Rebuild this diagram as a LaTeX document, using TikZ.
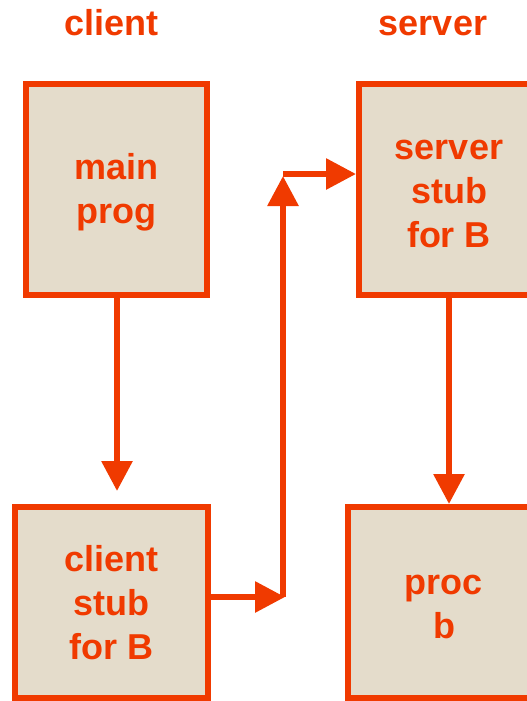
\documentclass[tikz,border=0pt]{standalone}
\usepackage{fontspec}
\setmainfont{Liberation Sans}
\usetikzlibrary{arrows.meta}
\definecolor{rpcred}{RGB}{240,58,0}
\definecolor{rpcfill}{RGB}{228,220,203}
\tikzset{
  boxtext/.style={align=center, text=rpcred, inner sep=0pt,
    font=\fontsize{36}{44}\selectfont\bfseries},
  box/.style={draw=rpcred, fill=rpcfill, line width=6pt, rectangle, inner sep=0pt},
  title/.style={text=rpcred, anchor=base, inner sep=0pt,
    font=\fontsize{36}{44}\selectfont\bfseries},
  arr/.style={draw=rpcred, line width=6pt,
    -{Triangle[length=30pt,width=30pt]}},
}
\begin{document}
\begin{tikzpicture}[x=1pt,y=-1pt]
  \clip (0,0) rectangle (527,701);
  \fill[white] (0,0) rectangle (527,701);

  % column headings
  \node[title] (hclient) at (111.5,36) {client};
  \node[title] (hserver) at (433,36) {server};

  % client side
  \node[box, minimum width=181pt, minimum height=211pt,
    label={[boxtext,yshift=-3pt]center:main\\prog}] (main) at (116.5,189.5) {};
  \node[box, minimum width=193pt, minimum height=191pt,
    label={[boxtext]center:client\\stub\\for B}] (cstub) at (111.5,602.5) {};

  % server side
  \node[box, minimum width=180pt, minimum height=211pt,
    label={[boxtext,yshift=-4pt]center:server\\stub\\for B}] (sstub) at (449,189.5) {};
  \node[box, minimum width=192pt, minimum height=191pt,
    label={[boxtext,yshift=-4pt]center:proc\\b}] (proc) at (444,602.5) {};

  % routing points of the call message
  \coordinate (down) at (117,491);
  \coordinate (low) at (285,597);
  \coordinate (lowc) at (283,597);
  \coordinate (high) at (283,176);
  \coordinate (highr) at (283,174);

  % connectors
  \draw[arr] (main.south -| down) -- (down);
  \draw[arr] (cstub.east |- low) -- (low);
  \draw[arr] (lowc) -- (high);
  \draw[arr] (highr) -- (sstub.west |- highr);
  \draw[arr] (sstub.south) -- (proc.north -| sstub.south);
\end{tikzpicture}
\end{document}
